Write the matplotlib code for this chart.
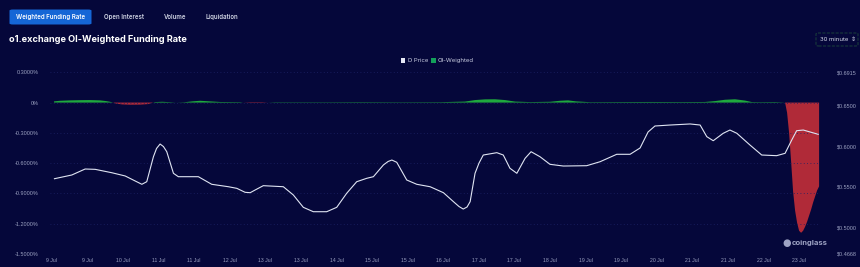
import numpy as np
import matplotlib
matplotlib.use('Agg')
import matplotlib.pyplot as plt
from matplotlib.patches import FancyBboxPatch, Rectangle

# time axis: hours since 9 Jul 00:00, ticks every 16 hours
tick_hours = list(range(0, 337, 16))
tick_labels = ['9 Jul', '9 Jul', '10 Jul', '11 Jul', '11 Jul', '12 Jul', '13 Jul', '13 Jul',
               '14 Jul', '15 Jul', '15 Jul', '16 Jul', '17 Jul', '17 Jul', '18 Jul', '19 Jul',
               '19 Jul', '20 Jul', '21 Jul', '21 Jul', '22 Jul', '23 Jul']

# price (right axis, USD)
price_hours = [1.2, 9.0, 15.0, 19.5, 27.0, 33.0, 37.5, 40.5, 42.7, 45.7, 47.1, 48.7, 50.2,
               51.7, 54.7, 56.9, 65.9, 71.9, 79.4, 83.2, 86.9, 89.2, 91.4, 95.1, 104.1,
               108.6, 113.1, 117.6, 123.6, 128.1, 132.6, 137.1, 141.6, 144.6, 149.1, 151.2,
               152.9, 155.1, 159.6, 164.1, 170.1, 176.1, 180.6, 183.1, 185.0, 186.7, 188.1,
               190.3, 192.1, 194.0, 200.1, 203.0, 206.0, 209.1, 212.8, 215.5, 219.5, 224.0,
               230.0, 240.5, 246.5, 254.0, 260.0, 264.5, 268.1, 271.2, 278.0, 287.0, 291.5,
               294.5, 297.4, 301.9, 304.9, 308.0, 313.9, 319.2, 325.9, 329.7, 332.7, 334.9,
               337.9, 344.6]
price = [0.5599, 0.5645, 0.5719, 0.5715, 0.5673, 0.5633, 0.5571, 0.5530, 0.5562, 0.5871,
         0.5973, 0.6028, 0.5997, 0.5933, 0.5666, 0.5624, 0.5624, 0.5530, 0.5500, 0.5480,
         0.5431, 0.5426, 0.5459, 0.5513, 0.5500, 0.5398, 0.5245, 0.5191, 0.5191, 0.5245,
         0.5419, 0.5562, 0.5604, 0.5624, 0.5769, 0.5812, 0.5830, 0.5802, 0.5583, 0.5530,
         0.5500, 0.5426, 0.5315, 0.5255, 0.5224, 0.5249, 0.5315, 0.5666, 0.5793, 0.5892,
         0.5921, 0.5892, 0.5728, 0.5666, 0.5851, 0.5933, 0.5871, 0.5777, 0.5756, 0.5760,
         0.5809, 0.5901, 0.5901, 0.5979, 0.6177, 0.6251, 0.6263, 0.6276, 0.6263, 0.6119,
         0.6069, 0.6161, 0.6201, 0.6161, 0.6016, 0.5892, 0.5884, 0.5913, 0.6078, 0.6193,
         0.6201, 0.6148]

# OI-weighted funding rate (left axis, %)
rate_hours = [1.0, 3.7, 8.2, 12.7, 17.2, 21.7, 24.4, 26.2, 27.6, 28.9, 31.6, 35.2, 39.7,
              43.3, 45.1, 46.4, 49.6, 53.2, 55.9, 59.5, 63.1, 66.7, 71.2, 75.7, 84.7, 86.0,
              89.2, 94.6, 97.3, 100.4, 125.1, 138.6, 156.6, 174.6, 185.8, 190.3, 194.8,
              199.3, 203.8, 208.3, 215.0, 224.0, 228.5, 232.1, 235.7, 242.0, 255.5, 269.0,
              282.5, 293.7, 298.2, 302.7, 307.2, 311.7, 314.8, 318.4, 325.2, 328.3, 329.7,
              330.6, 331.5, 332.4, 333.3, 334.2, 335.1, 336.0, 336.9, 337.8, 338.7, 339.6,
              340.5, 341.4, 342.3, 343.2, 344.1, 345.0]
rate = [0.012, 0.018, 0.022, 0.024, 0.025, 0.022, 0.015, 0.008, 0.0, -0.010, -0.018, -0.021,
        -0.020, -0.015, -0.003, 0.005, 0.008, 0.004, 0.0, 0.003, 0.012, 0.018, 0.012, 0.006,
        0.004, 0.0, -0.004, -0.004, 0.0, 0.003, 0.003, 0.004, 0.003, 0.004, 0.010, 0.025,
        0.032, 0.033, 0.025, 0.010, 0.005, 0.008, 0.018, 0.022, 0.012, 0.004, 0.005, 0.006,
        0.005, 0.006, 0.015, 0.028, 0.033, 0.020, 0.005, 0.004, 0.005, 0.002, 0.0,
        -0.10, -0.30, -0.58, -0.88, -1.07, -1.19, -1.27, -1.29, -1.27, -1.23, -1.18,
        -1.12, -1.06, -0.99, -0.93, -0.87, -0.83]

left_ticks = [0.3, 0.0, -0.3, -0.6, -0.9, -1.2, -1.5]
left_labels = ['0.3000%', '0%', '-0.3000%', '-0.6000%', '-0.9000%', '-1.2000%', '-1.5000%']
right_ticks = [0.6915, 0.65, 0.60, 0.55, 0.50, 0.4668]
right_labels = ['$0.6915', '$0.6500', '$0.6000', '$0.5500', '$0.5000', '$0.4668']

bg = '#05073a'
tick_color = '#9aa0c0'
green = '#1fa83e'
red = '#b02a38'
tick_font = 'Liberation Sans'

fig = plt.figure(figsize=(8.6, 2.67), dpi=100, facecolor=bg)
W, H = 860, 267

ax = fig.add_axes([50 / W, 1 - 254 / H, 770 / W, (254 - 72.3) / H])
ax.set_facecolor(bg)
r = np.array(rate)
ax.fill_between(rate_hours, r, 0, where=r >= 0, interpolate=True, color=green, lw=0)
ax.fill_between(rate_hours, r, 0, where=r <= 0, interpolate=True, color=red, lw=0)
ax.set_ylim(-1.5, 0.3)
ax.set_xlim(-0.8, 345.4)
ax.set_yticks(left_ticks)
ax.set_yticklabels(left_labels, family=tick_font, fontsize=4.0)
ax.set_xticks(tick_hours)
ax.set_xticklabels(tick_labels, family=tick_font, fontsize=3.7)
ax.tick_params(axis='both', length=0, labelcolor=tick_color)
ax.tick_params(axis='y', pad=8)
ax.tick_params(axis='x', pad=3)
ax.grid(axis='y', color='#1c2266', linestyle=(0, (1, 3)), linewidth=0.6)
for s in ax.spines.values():
    s.set_visible(False)

ax2 = ax.twinx()
ax2.plot(price_hours, price, color='#dfe4f2', linewidth=0.8, solid_joinstyle='round')
ax2.set_ylim(0.4668, 0.6915)
ax2.set_yticks(right_ticks)
ax2.set_yticklabels(right_labels, family=tick_font, fontsize=4.0)
ax2.tick_params(axis='y', length=0, labelcolor=tick_color, pad=12)
for s in ax2.spines.values():
    s.set_visible(False)

# header tabs
fig.patches.append(FancyBboxPatch((9.5 / W, 1 - 24.5 / H), 82 / W, 15 / H,
                                  boxstyle='round,pad=0,rounding_size=0.004',
                                  transform=fig.transFigure, facecolor='#1566d6',
                                  edgecolor='none'))
fig.text(50.5 / W, 1 - 17 / H, 'Weighted Funding Rate', color='white', fontsize=4.4,
         family='Inter', weight='semibold', ha='center', va='center')
for label, cx in [('Open Interest', 124.5), ('Volume', 175), ('Liquidation', 221.5)]:
    fig.text(cx / W, 1 - 17 / H, label, color='#d0d4e4', fontsize=4.4,
             family='Inter', weight='semibold', ha='center', va='center')

fig.text(9 / W, 1 - 40 / H, 'o1.exchange OI-Weighted Funding Rate', color='white',
         fontsize=6.6, family='Inter', weight='bold', ha='left', va='center')

# interval selector
fig.patches.append(FancyBboxPatch((816 / W, 1 - 46 / H), 42 / W, 13 / H,
                                  boxstyle='round,pad=0,rounding_size=0.003',
                                  transform=fig.transFigure, facecolor='none',
                                  edgecolor='#1f4a3a', linewidth=0.6, linestyle='--'))
fig.text(820 / W, 1 - 39.5 / H, '30 minute', color='#d8dcea', fontsize=4.3,
         family='Inter', ha='left', va='center')
fig.text(853.5 / W, 1 - 39.5 / H, '\u21d5', color='#d8dcea', fontsize=4.3,
         family='DejaVu Sans', ha='center', va='center')

# legend
fig.patches.append(Rectangle((400.5 / W, 1 - 62.5 / H), 4.5 / W, 4.5 / H,
                             transform=fig.transFigure, facecolor='#e6e8f5',
                             edgecolor='none'))
fig.text(407.5 / W, 1 - 60.3 / H, 'D Price', color='#c8cce0', fontsize=4.3,
         family='Inter', ha='left', va='center')
fig.patches.append(Rectangle((431 / W, 1 - 62.5 / H), 4.5 / W, 4.5 / H,
                             transform=fig.transFigure, facecolor='#13a05a',
                             edgecolor='none'))
fig.text(438 / W, 1 - 60.3 / H, 'OI-Weighted', color='#c8cce0', fontsize=4.3,
         family='Inter', ha='left', va='center')

# watermark
fig.text(786.5 / W, 1 - 243 / H, '\u25cf', color='#9ea3c4', fontsize=7,
         ha='center', va='center')
fig.text(792 / W, 1 - 243 / H, 'coinglass', color='#9ea3c4', fontsize=5.5,
         family='Inter', weight='bold', ha='left', va='center')

fig.savefig('out.png', dpi=100, facecolor=bg)
